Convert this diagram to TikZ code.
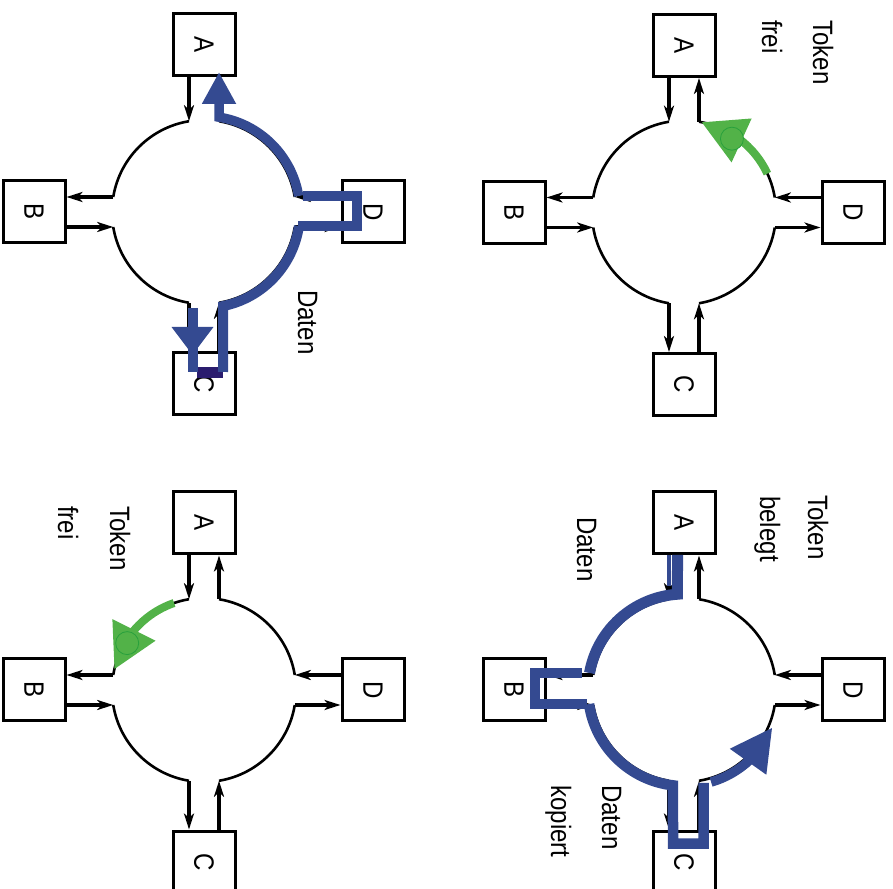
\documentclass[tikz,border=0pt]{standalone}
\usepackage{fontspec}
\setmainfont{Liberation Sans}[FakeStretch=0.86]
\usetikzlibrary{arrows.meta,bending}

\definecolor{datablue}{RGB}{52,74,145}
\definecolor{datanavy}{RGB}{42,28,110}
\definecolor{tokengreen}{RGB}{82,178,72}
\definecolor{tokenedge}{RGB}{40,160,60}

\tikzset{
  station/.style={draw, line width=3pt, minimum size=62pt, inner sep=0pt, font=\fontsize{28}{32}\selectfont},
  ringline/.style={line width=2.6pt},
  busarrow/.style={line width=3.4pt, -{Stealth[length=16pt,width=10pt,inset=4.5pt]}},
  note/.style={rotate=-90, anchor=base west, inner sep=0pt, font=\fontsize{28}{32}\selectfont},
  dataflow/.style={datablue, line width=9.5pt},
  tokenflow/.style={tokengreen, line width=8pt, -{Triangle[length=44pt,width=46pt]}},
  tokendot/.style={circle, fill=tokengreen, draw=tokenedge, line width=0.8pt, minimum size=23pt, inner sep=0pt}
}

\begin{document}
\begin{tikzpicture}[x=1pt,y=1pt]
\useasboundingbox (0,0) rectangle (893,888);
% four token rings with stations A-D
\foreach \px/\py/\p in {684/675.5/1,204/676/2,684/198/3,204/198/4}{
  \begin{scope}[shift={(\px,\py)},name prefix=p\p-]
    \node[station] (A) at (0,167) {\rotatebox{-90}{A}};
    \node[station] (B) at (-170,0) {\rotatebox{-90}{B}};
    \node[station] (C) at (0,-172) {\rotatebox{-90}{C}};
    \node[station] (D) at (169,0) {\rotatebox{-90}{D}};
    \foreach \a in {0,90,180,270}
      \draw[ringline] (\a+9.4:92) arc[start angle=\a+9.4, end angle=\a+80.6, radius=92];
    \coordinate (a1) at (-15,90.8);  \coordinate (a2) at (15,90.8);
    \coordinate (b1) at (-90.8,15);  \coordinate (b2) at (-90.8,-15);
    \coordinate (c1) at (-15,-90.8); \coordinate (c2) at (15,-90.8);
    \coordinate (d1) at (90.8,15);   \coordinate (d2) at (90.8,-15);
    \draw[busarrow] (A.south -| a1) -- (a1);
    \draw[busarrow] (a2) -- (A.south -| a2);
    \draw[busarrow] (b1) -- (B.east |- b1);
    \draw[busarrow] (B.east |- b2) -- (b2);
    \draw[busarrow] (c1) -- (C.north -| c1);
    \draw[busarrow] (C.north -| c2) -- (c2);
    \draw[busarrow] (D.west |- d1) -- (d1);
    \draw[busarrow] (d2) -- (D.west |- d2);
  \end{scope}
}
% token frei (top right)
\begin{scope}[shift={(684,675.5)}]
  \draw[tokenflow] (25:92) arc[start angle=25, end angle=79, radius=92];
  \node[tokendot] (dot1) at (57:88) {};
  \node[note] (tok1) at (129,192.5) {Token};
  \node[note] (frei1) at (78,192.5) {frei};
\end{scope}
% daten from D (top left)
\begin{scope}[shift={(204,676)}]
  \draw[dataflow] (99,16) -- (153,16) -- (153,-14) -- (94,-14);
  \draw[dataflow,-{Triangle[length=32pt,width=32pt]}] (9.6:96) arc[start angle=9.6, end angle=81, radius=96] -- (15,140);
  \draw[datanavy, line width=11pt] (-7,-160.5) -- (19,-160.5);
  \draw[dataflow, line width=10pt] (-8.4:96) arc[start angle=-8.4, end angle=-78.5, radius=96] -- (19,-160);
  \draw[dataflow, line width=10pt] (-11.5,-96) -- (-11.5,-160);
  \draw[dataflow,-{Triangle[length=28pt,width=40pt]}] (-11.5,-96) -- (-11.5,-143);
  \node[note] (dat2) at (94,-78) {Daten};
\end{scope}
% token belegt (bottom right)
\begin{scope}[shift={(684,198)}]
  \draw[datablue, line width=3.5pt] (-15,135) -- (-15,104);
  \draw[dataflow, line width=11pt] (-6.5,135) -- (93.9:96) arc[start angle=93.9, end angle=169.8, radius=96];
  \draw[dataflow] (-102,17) -- (-149,17) -- (-149,-14) -- (-97,-14);
  \draw[dataflow, line width=10.5pt] (188.4:96) arc[start angle=188.4, end angle=263.4, radius=96] -- (-11,-153.5) -- (19.5,-153.5) -- (19.5,-93);
  \draw[dataflow,-{Triangle[length=42pt,width=42pt]}] (-73.6:96) arc[start angle=-73.6, end angle=-23, radius=96];
  \node[note] (tok3) at (124,195) {Token};
  \node[note] (beleg3) at (76,194) {belegt};
  \node[note] (dat3) at (-107,173) {Daten};
  \node[note] (dat3b) at (-82,-95) {Daten};
  \node[note] (kop3) at (-133,-95) {kopiert};
\end{scope}
% token frei again (bottom left)
\begin{scope}[shift={(204,198)}]
  \draw[tokenflow] (109:92) arc[start angle=109, end angle=167, radius=92];
  \node[tokendot] (dot4) at (148.6:90) {};
  \node[note] (tok4) at (-94,184) {Token};
  \node[note] (frei4) at (-146,184) {frei};
\end{scope}
\end{tikzpicture}
\end{document}
